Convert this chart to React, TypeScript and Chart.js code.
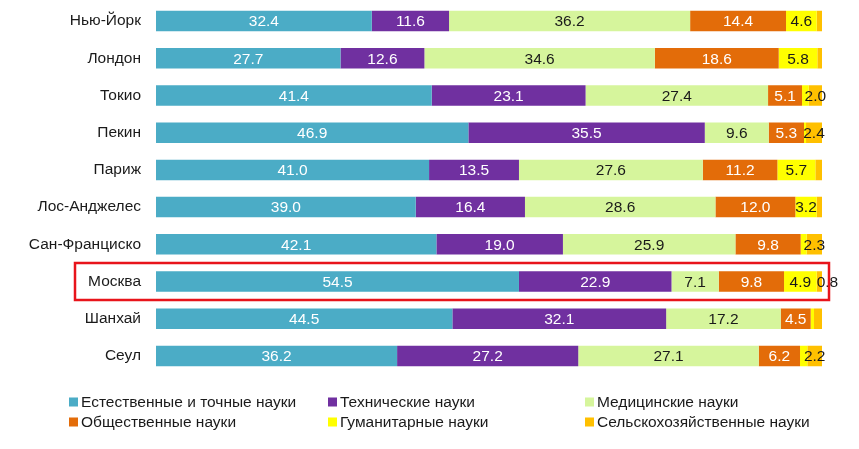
import React, { useEffect, useRef } from "react";
import { Chart, registerables } from "chart.js";

Chart.register(...registerables);

const cities = ["Нью-Йорк", "Лондон", "Токио", "Пекин", "Париж", "Лос-Анджелес", "Сан-Франциско", "Москва", "Шанхай", "Сеул"];
const seriesNames = [
  "Естественные и точные науки",
  "Технические науки",
  "Медицинские науки",
  "Общественные науки",
  "Гуманитарные науки",
  "Сельскохозяйственные науки",
];
const natural = [32.4, 27.7, 41.4, 46.9, 41.0, 39.0, 42.1, 54.5, 44.5, 36.2];
const technical = [11.6, 12.6, 23.1, 35.5, 13.5, 16.4, 19.0, 22.9, 32.1, 27.2];
const medical = [36.2, 34.6, 27.4, 9.6, 27.6, 28.6, 25.9, 7.1, 17.2, 27.1];
const social = [14.4, 18.6, 5.1, 5.3, 11.2, 12.0, 9.8, 9.8, 4.5, 6.2];
const humanities = [4.6, 5.8, 1.0, 0.3, 5.7, 3.2, 0.9, 4.9, 0.5, 1.1];
const agricultural = [0.8, 0.7, 2.0, 2.4, 1.0, 0.8, 2.3, 0.8, 1.2, 2.2];
const highlightCity = "Москва";

const colors = ["#4bacc6", "#7030a0", "#d6f59c", "#e36c09", "#ffff00", "#ffc000"];
const labelColors = ["#ffffff", "#ffffff", "#1a1a1a", "#ffffff", "#1a1a1a", "#1a1a1a"];

const FONT = "'Liberation Sans', Arial, sans-serif";

const valueLabels = {
  id: "valueLabels",
  afterDatasetsDraw(chart: any) {
    const ctx = chart.ctx;
    ctx.save();
    ctx.font = `15.5px ${FONT}`;
    ctx.textBaseline = "middle";
    const hi = cities.indexOf(highlightCity);
    chart.data.datasets.forEach((ds: any, i: number) => {
      const meta = chart.getDatasetMeta(i);
      meta.data.forEach((el: any, j: number) => {
        const v = ds.data[j];
        const forced = j === hi && i === 5;
        if (v < 2 && !forced) return;
        ctx.fillStyle = labelColors[i];
        const left = Math.min(el.x, el.base);
        const right = Math.max(el.x, el.base);
        if (v < 1) {
          ctx.textAlign = "left";
          ctx.fillText(v.toFixed(1), left, el.y + 1);
        } else {
          ctx.textAlign = "center";
          ctx.fillText(v.toFixed(1), (left + right) / 2, el.y + 1);
        }
      });
    });
    ctx.restore();
  },
};

const extras = {
  id: "extras",
  afterDraw(chart: any) {
    const ctx = chart.ctx;
    ctx.save();
    // highlight box
    const y = chart.scales.y.getPixelForValue(cities.indexOf(highlightCity));
    ctx.strokeStyle = "#e8141b";
    ctx.lineWidth = 2.5;
    ctx.strokeRect(75, y - 18.5, 754, 37);
    // legend
    const cols = [69, 328, 585];
    const rows = [402, 422];
    ctx.font = `15.5px ${FONT}`;
    ctx.textBaseline = "middle";
    ctx.textAlign = "left";
    seriesNames.forEach((name, i) => {
      const cx = cols[i % 3];
      const cy = rows[Math.floor(i / 3)];
      ctx.fillStyle = colors[i];
      ctx.fillRect(cx, cy - 4.5, 9, 9);
      ctx.fillStyle = "#1a1a1a";
      ctx.fillText(name, cx + 12, cy + 1);
    });
    ctx.restore();
  },
};

export default function App() {
  const ref = useRef<HTMLCanvasElement>(null);
  useEffect(() => {
    const series = [natural, technical, medical, social, humanities, agricultural];
    const chart = new Chart(ref.current!, {
      type: "bar",
      data: {
        labels: cities,
        datasets: series.map((d, i) => ({
          label: seriesNames[i],
          data: d,
          backgroundColor: colors[i],
          borderWidth: 0,
          barPercentage: 0.55,
          categoryPercentage: 1,
        })),
      },
      options: {
        indexAxis: "y",
        responsive: false,
        animation: false,
        layout: { padding: { left: 0, right: 37, top: 2.5, bottom: 74.5 } },
        plugins: { legend: { display: false }, tooltip: { enabled: false } },
        scales: {
          x: { stacked: true, display: false, min: 0, max: 100 },
          y: {
            stacked: true,
            grid: { display: false, drawTicks: false },
            border: { display: false },
            ticks: { color: "#1a1a1a", font: { size: 15.5, family: FONT }, padding: 15 },
            afterFit(scale: any) {
              scale.width = 156;
              scale.paddingTop = 0;
              scale.paddingBottom = 0;
            },
          },
        },
      },
      plugins: [valueLabels, extras],
    });
    return () => chart.destroy();
  }, []);
  return (
    <div style={{ position: "absolute", left: 0, top: 0, width: 859, height: 449, background: "#fff" }}>
      <canvas ref={ref} width={859} height={449} />
    </div>
  );
}
